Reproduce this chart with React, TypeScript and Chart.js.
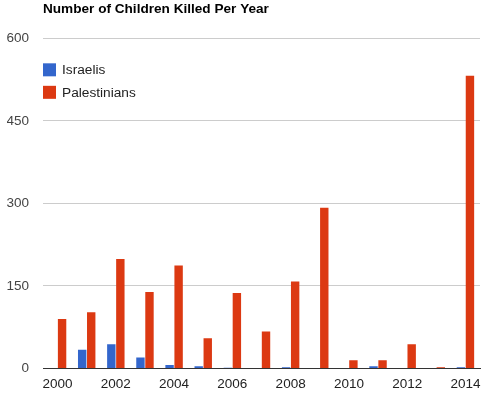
import React, { useEffect, useRef } from "react";
import { Chart, registerables } from "chart.js";

Chart.register(...registerables);

const years = ["2000","2001","2002","2003","2004","2005","2006","2007","2008","2009","2010","2011","2012","2013","2014"];
const israelis = [0, 34, 44, 20, 6, 4, 1, 0, 2, 0, 0, 4, 0, 0, 2];
const palestinians = [90, 102, 199, 139, 187, 55, 137, 67, 158, 292, 15, 15, 44, 2, 532];
const yTicks = [0, 150, 300, 450, 600];
const titleText = "Number of Children Killed Per Year";

const FONT = "'Liberation Sans', Arial, sans-serif";

const insideLegend = {
  id: "insideLegend",
  afterDraw(chart: any) {
    const { ctx, chartArea } = chart;
    ctx.save();
    ctx.font = `13.7px ${FONT}`;
    ctx.textBaseline = "middle";
    ctx.textAlign = "left";
    chart.data.datasets.forEach((ds: any, i: number) => {
      const x = chartArea.left;
      const y = chartArea.top + 25 + i * 22.5;
      ctx.fillStyle = ds.backgroundColor;
      ctx.fillRect(x, y, 13, 13);
      ctx.fillStyle = "#222";
      ctx.fillText(ds.label, x + 19, y + 7);
    });
    ctx.restore();
  },
};

export default function App() {
  const ref = useRef<HTMLCanvasElement>(null);
  useEffect(() => {
    document.body.style.margin = "0";
    const chart = new Chart(ref.current!, {
      type: "bar",
      data: {
        labels: years,
        datasets: [
          { label: "Israelis", data: israelis, backgroundColor: "#3366cc" },
          { label: "Palestinians", data: palestinians, backgroundColor: "#dc3912" },
        ],
      },
      options: {
        animation: false,
        responsive: false,
        layout: { padding: { top: 1, left: 7, right: 9, bottom: 2 } },
        datasets: { bar: { categoryPercentage: 0.62, barPercentage: 0.93 } },
        plugins: {
          legend: { display: false },
          tooltip: { enabled: false },
          title: {
            display: true,
            text: titleText,
            align: "start",
            fullSize: false,
            color: "#000",
            font: { family: FONT, size: 13.6, weight: "bold" },
            padding: { top: 0, bottom: 21 },
          },
        },
        scales: {
          x: {
            grid: { display: false, drawTicks: false, tickLength: 0 },
            border: { display: true, color: "#333", width: 1 },
            afterFit: (axis: any) => {
              axis.height = 23.6;
            },
            ticks: {
              autoSkip: false,
              maxRotation: 0,
              padding: 8,
              color: "#222",
              font: { family: FONT, size: 13.5 },
              callback: (_v: any, i: number) => (i % 2 === 0 ? years[i] : ""),
            },
          },
          y: {
            min: 0,
            max: 600,
            afterBuildTicks: (axis: any) => {
              axis.ticks = yTicks.map((v) => ({ value: v }));
            },
            afterFit: (axis: any) => {
              axis.width = 36;
            },
            grid: { color: "#cccccc", drawTicks: false, tickLength: 0 },
            border: { display: false },
            ticks: {
              padding: 14,
              color: "#444",
              font: { family: FONT, size: 13.5 },
            },
          },
        },
      },
      plugins: [insideLegend],
    });
    return () => chart.destroy();
  }, []);
  return <canvas ref={ref} width={489} height={394} />;
}
